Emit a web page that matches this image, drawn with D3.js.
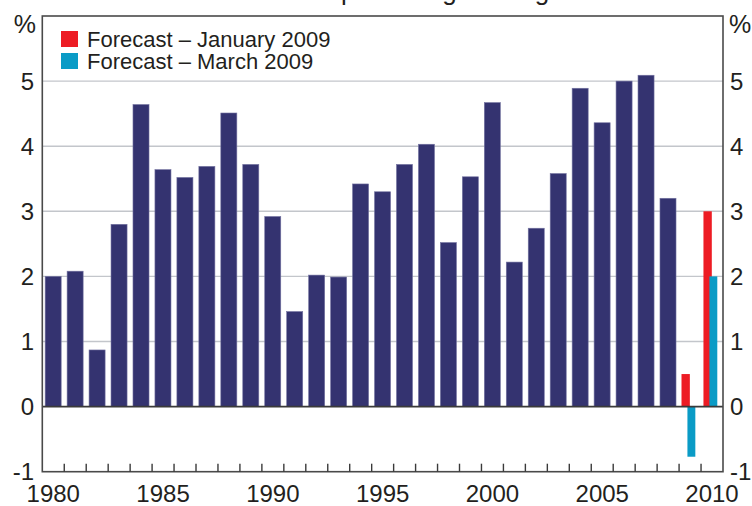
<!DOCTYPE html>
<html>
<head>
<meta charset="utf-8">
<script src="https://cdn.jsdelivr.net/npm/d3@7"></script>
<style>
  html, body { margin: 0; padding: 0; background: #fff; }
  svg { display: block; }
  text { font-family: "Liberation Sans", Arial, Helvetica, sans-serif; fill: #231f20; }
</style>
</head>
<body>
<svg id="chart" width="752" height="506"></svg>
<script>
// ---- data ----
const years = d3.range(1980, 2011);
const actualYears = d3.range(1980, 2009);
const actualValues = [2.0, 2.08, 0.87, 2.8, 4.64, 3.64, 3.52, 3.69, 4.51, 3.72,
                      2.92, 1.46, 2.02, 1.99, 3.42, 3.3, 3.72, 4.03, 2.52, 3.53,
                      4.67, 2.22, 2.74, 3.58, 4.89, 4.36, 5.0, 5.09, 3.2];
const forecastYears = [2009, 2010];
const forecastJan = [0.5, 3.0];
const forecastMar = [-0.77, 2.0];
const yTicks = [-1, 0, 1, 2, 3, 4, 5];
const xLabelYears = [1980, 1985, 1990, 1995, 2000, 2005, 2010];
const legendLabels = ["Forecast \u2013 January 2009", "Forecast \u2013 March 2009"];
const unitLabel = "%";
const titleFragment = "percentage change";

// ---- layout ----
const plotL = 42.3, plotR = 723, plotT = 16, plotB = 471.7;
const navy = "#343370", red = "#ed1c24", blue = "#0a9bc6";

const svg = d3.select("#chart");

const x = d3.scaleBand().domain(years).range([plotL, plotR]).padding(0);
const y = d3.scaleLinear().domain([-1, 6]).range([plotB, plotT]);
const bw = x.bandwidth();

// partially visible title (cut at top of image)
svg.append("text")
  .attr("x", 341).attr("y", 0)
  .attr("font-size", 26)
  .text(titleFragment);

// gridlines
svg.append("g")
  .selectAll("line")
  .data(yTicks.filter(v => v > 0))
  .join("line")
  .attr("x1", plotL).attr("x2", plotR)
  .attr("y1", d => y(d)).attr("y2", d => y(d))
  .attr("stroke", "#c3c6cb").attr("stroke-width", 1.4);

// actual bars
svg.append("g")
  .selectAll("rect")
  .data(actualYears.map((yr, i) => ({ yr, v: actualValues[i] })))
  .join("rect")
  .attr("x", d => x(d.yr) + bw * 0.13)
  .attr("width", bw * 0.73)
  .attr("y", d => y(Math.max(0, d.v)))
  .attr("height", d => Math.abs(y(d.v) - y(0)))
  .attr("fill", navy)
  .attr("stroke", "#7372a0").attr("stroke-width", 0.6);

// forecast bars — January (red) then March (blue, on top)
svg.append("g")
  .selectAll("rect")
  .data(forecastYears.map((yr, i) => ({ yr, v: forecastJan[i] })))
  .join("rect")
  .attr("x", d => x(d.yr) + bw * 0.11)
  .attr("width", bw * 0.38)
  .attr("y", d => y(Math.max(0, d.v)))
  .attr("height", d => Math.abs(y(d.v) - y(0)))
  .attr("fill", red);

svg.append("g")
  .selectAll("rect")
  .data(forecastYears.map((yr, i) => ({ yr, v: forecastMar[i] })))
  .join("rect")
  .attr("x", d => x(d.yr) + bw * 0.38)
  .attr("width", bw * 0.36)
  .attr("y", d => y(Math.max(0, d.v)))
  .attr("height", d => Math.abs(y(d.v) - y(0)))
  .attr("fill", blue);

// zero line
svg.append("line")
  .attr("x1", plotL).attr("x2", plotR)
  .attr("y1", y(0)).attr("y2", y(0))
  .attr("stroke", "#3a3a3a").attr("stroke-width", 1.6);

// frame
svg.append("rect")
  .attr("x", plotL).attr("y", plotT)
  .attr("width", plotR - plotL).attr("height", plotB - plotT)
  .attr("fill", "none").attr("stroke", "#4a4a4a").attr("stroke-width", 1.6);

// bottom ticks at year boundaries
svg.append("g")
  .selectAll("line")
  .data(years.slice(1))
  .join("line")
  .attr("x1", d => x(d)).attr("x2", d => x(d))
  .attr("y1", plotB).attr("y2", plotB - 8)
  .attr("stroke", "#3a3a3a").attr("stroke-width", 1.4);

// x labels
svg.append("g")
  .selectAll("text")
  .data(xLabelYears)
  .join("text")
  .attr("x", d => x(d) + bw / 2)
  .attr("y", 502)
  .attr("text-anchor", "middle")
  .attr("font-size", 24)
  .text(d => d);

// y labels left & right
const fmt = d => (d < 0 ? "-" + Math.abs(d) : String(d));
svg.append("g")
  .selectAll("text")
  .data(yTicks)
  .join("text")
  .attr("x", 34)
  .attr("y", d => y(d))
  .attr("dy", "0.35em")
  .attr("text-anchor", "end")
  .attr("font-size", 24)
  .text(fmt);

svg.append("g")
  .selectAll("text")
  .data(yTicks)
  .join("text")
  .attr("x", 730)
  .attr("y", d => y(d))
  .attr("dy", "0.35em")
  .attr("text-anchor", "start")
  .attr("font-size", 24)
  .text(fmt);

// % unit labels
svg.append("text").attr("x", 36).attr("y", 33).attr("text-anchor", "end")
  .attr("font-size", 25).text(unitLabel);
svg.append("text").attr("x", 729).attr("y", 33).attr("text-anchor", "start")
  .attr("font-size", 25).text(unitLabel);

// legend
const legendColors = [red, blue];
const lg = svg.append("g");
legendLabels.forEach((lab, i) => {
  lg.append("rect")
    .attr("x", 61).attr("y", 31 + i * 22)
    .attr("width", 17).attr("height", 16)
    .attr("fill", legendColors[i]);
  lg.append("text")
    .attr("x", 87).attr("y", 46.5 + i * 22)
    .attr("font-size", 22)
    .text(lab);
});
</script>
</body>
</html>
